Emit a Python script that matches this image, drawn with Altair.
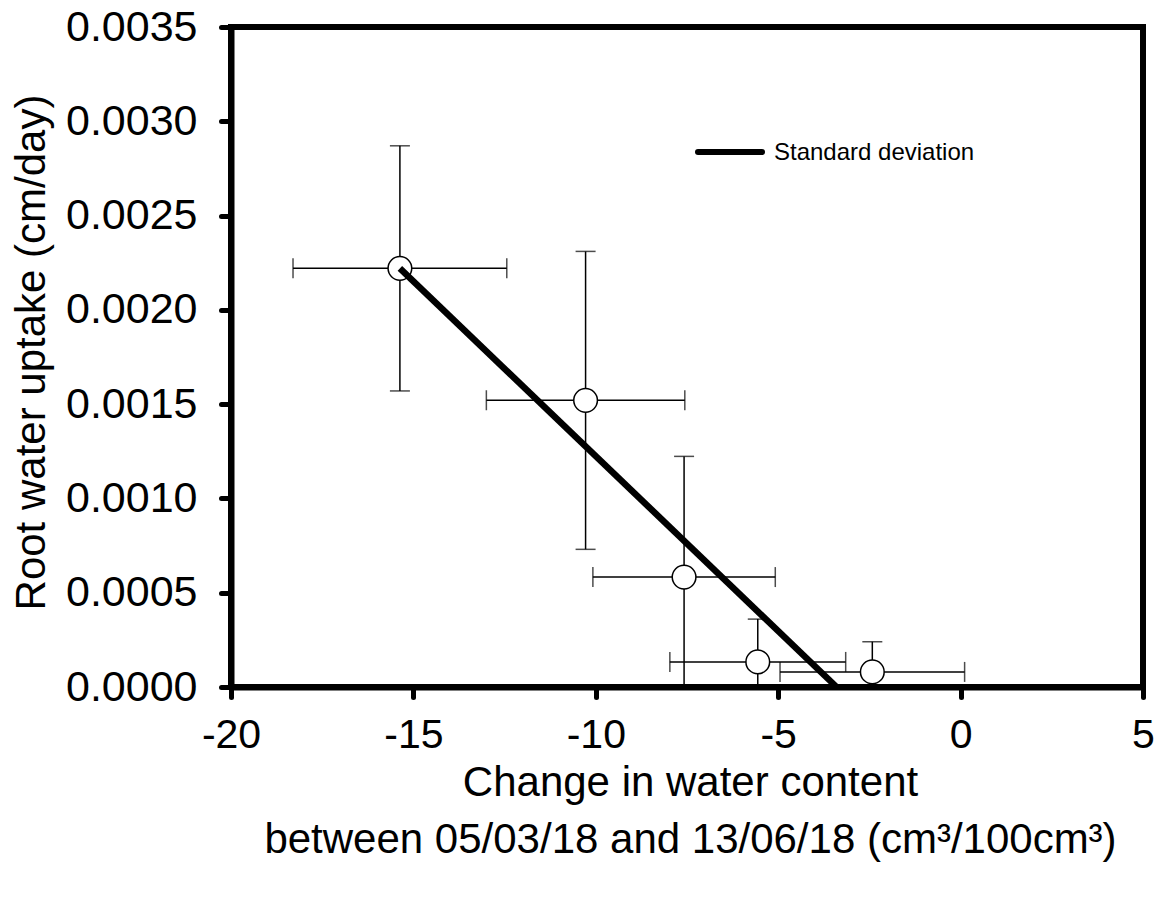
import altair as alt
import pandas as pd

# ---- data ----
x_mean = [-15.37, -10.28, -7.58, -5.56, -2.42]
y_mean = [0.00222, 0.00152, 0.000583, 0.000133, 0.00008]
x_sd = [2.93, 2.72, 2.50, 2.41, 2.53]
y_sd = [0.00065, 0.00079, 0.00064, 0.000227, 0.00016]

fit_x = [-15.37, -3.40]
fit_y = [0.00222, 0.0]

x_ticks = [-20, -15, -10, -5, 0, 5]
y_ticks = [0.0, 0.0005, 0.0010, 0.0015, 0.0020, 0.0025, 0.0030, 0.0035]

legend_label = ["Standard deviation"]
x_title = ["Change in water content", "between 05/03/18 and 13/06/18 (cm³/100cm³)"]
y_title = "Root water uptake (cm/day)"

FONT = "Liberation Sans"

df = pd.DataFrame({"x": x_mean, "y": y_mean, "xs": x_sd, "ys": y_sd})
df["x_lo"] = df["x"] - df["xs"]
df["x_hi"] = df["x"] + df["xs"]
df["y_lo"] = df["y"] - df["ys"]
df["y_hi"] = df["y"] + df["ys"]

fit_df = pd.DataFrame({"x": fit_x, "y": fit_y})
leg_df = pd.DataFrame({"label": legend_label})

xscale = alt.Scale(domain=[-20, 5], nice=False, zero=False)
yscale = alt.Scale(domain=[0, 0.0035], nice=False, zero=False)

X = alt.X("x:Q", scale=xscale, axis=alt.Axis(
    values=x_ticks, labelExpr="'' + datum.value", title=x_title,
    titleX=459, titleY=108, titleBaseline="alphabetic", titleLineHeight=57,
    labelPadding=18, labelFontSize=41))
Y = alt.Y("y:Q", scale=yscale, axis=alt.Axis(
    values=y_ticks, format=".4f", title=y_title,
    titleX=-200, titleY=325, titleAngle=-90, titleBaseline="middle",
    titleAlign="center", labelPadding=24, labelFontSize=43))

base = alt.Chart(df)
LW = 1.5
CAP = 20

yerr = base.mark_rule(color="black", strokeWidth=LW, clip=True).encode(
    x=alt.X("x:Q", scale=xscale), y=alt.Y("y_lo:Q", scale=yscale), y2="y_hi:Q")
xerr = base.mark_rule(color="black", strokeWidth=LW, clip=True).encode(
    x=alt.X("x_lo:Q", scale=xscale), x2="x_hi:Q", y=alt.Y("y:Q", scale=yscale))
ycap_hi = base.mark_tick(color="black", orient="horizontal", size=CAP, thickness=LW, clip=True).encode(
    x=alt.X("x:Q", scale=xscale), y=alt.Y("y_hi:Q", scale=yscale))
ycap_lo = base.mark_tick(color="black", orient="horizontal", size=CAP, thickness=LW, clip=True).encode(
    x=alt.X("x:Q", scale=xscale), y=alt.Y("y_lo:Q", scale=yscale))
xcap_lo = base.mark_tick(color="black", orient="vertical", size=CAP, thickness=LW, clip=True).encode(
    x=alt.X("x_lo:Q", scale=xscale), y=alt.Y("y:Q", scale=yscale))
xcap_hi = base.mark_tick(color="black", orient="vertical", size=CAP, thickness=LW, clip=True).encode(
    x=alt.X("x_hi:Q", scale=xscale), y=alt.Y("y:Q", scale=yscale))

pts = base.mark_point(shape="circle", filled=True, fill="white", stroke="black",
                      strokeWidth=LW, size=560, opacity=1).encode(x=X, y=Y)

fit = alt.Chart(fit_df).mark_line(color="black", strokeWidth=6.5, strokeCap="butt").encode(
    x=alt.X("x:Q", scale=xscale), y=alt.Y("y:Q", scale=yscale))

leg_line = alt.Chart(leg_df).mark_rule(color="black", strokeWidth=6, strokeCap="round").encode(
    x=alt.value(467), x2=alt.value(531), y=alt.value(125))
leg_text = alt.Chart(leg_df).mark_text(align="left", baseline="middle", font=FONT,
                                       fontSize=24, color="black").encode(
    x=alt.value(543), y=alt.value(126), text="label:N")

chart = alt.layer(yerr, xerr, ycap_hi, ycap_lo, xcap_lo, xcap_hi, pts, fit, leg_line, leg_text).properties(
    width=912, height=660,
    autosize=alt.AutoSizeParams(type="none"),
    padding={"left": 223, "top": 19, "right": 13, "bottom": 200},
    background="white",
).configure_view(
    stroke="black", strokeWidth=6
).configure_axis(
    grid=False, domainColor="black", domainWidth=6, tickColor="black", tickWidth=5,
    tickSize=10, tickCap="round", labelFont=FONT, labelColor="black",
    titleFont=FONT, titleFontSize=42, titleFontWeight="normal", titleColor="black",
    labelFlush=False, labelOverlap=False
)

chart.save("out.html", embed_options={"renderer": "svg", "actions": False})
